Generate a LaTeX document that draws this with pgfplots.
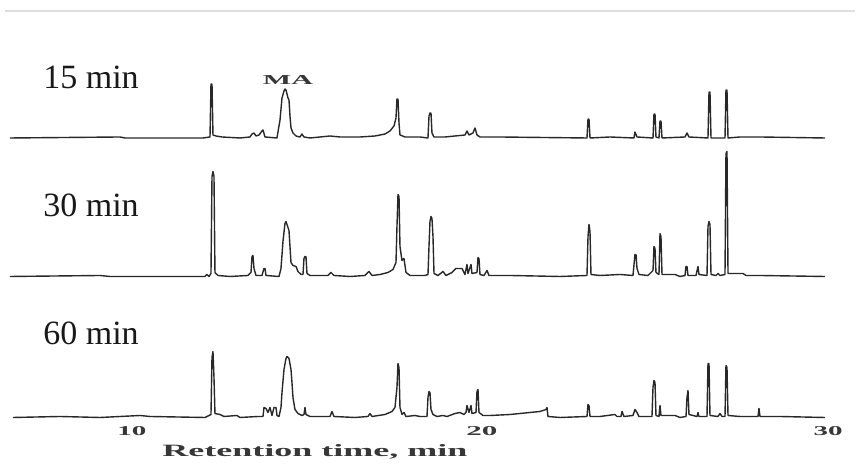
\documentclass[border=0pt]{standalone}
\usepackage{fontspec}
\setmainfont{Liberation Serif}
\usepackage{graphicx}
\usepackage{pgfplots}
\usepackage{pgfplotstable}
\pgfplotsset{compat=1.18}
\definecolor{trace}{RGB}{40,40,40}
\definecolor{lbl}{RGB}{55,55,55}

% 15 min chromatogram: t (min), h (signal)
\pgfplotstableread{
t h
6.514 0
9.657 1
9.8 0
12.029 0
12.229 1
12.257 54
12.286 54
12.314 3
12.4 2
12.571 1
13.086 0
13.371 1
13.429 4
13.486 5
13.543 2
13.629 3
13.714 7
13.743 8
13.8 1
14.143 0
14.229 18
14.286 40
14.343 47
14.371 49
14.4 48
14.429 44
14.457 40
14.486 38
14.514 22
14.543 10
14.6 5
14.686 2
14.8 1
14.857 4
14.914 1
15.086 0
15.657 2
15.943 1
16.514 1
16.943 2
17.229 4
17.371 7
17.486 12
17.543 20
17.571 39
17.6 39
17.629 15
17.657 3
17.8 1
18.229 1
18.457 0
18.486 22
18.514 25
18.543 25
18.571 5
18.629 1
18.943 1
19.229 2
19.514 3
19.571 7
19.629 3
19.743 5
19.8 10
19.857 3
19.943 1
20.514 1
23.0 0
23.029 19
23.057 19
23.086 0
23.657 1
24.343 0
24.371 6
24.429 1
24.886 0
24.914 24
24.943 24
24.971 1
25.057 0
25.086 17
25.114 17
25.143 0
25.8 1
25.857 5
25.914 1
26.457 0
26.486 46
26.514 46
26.543 0
26.943 0
26.971 48
27.0 48
27.029 0
27.371 1
27.943 1
29.8 0
}\panelA

% 30 min chromatogram
\pgfplotstableread{
t h
6.514 0
9.086 1
9.371 0
12.086 0
12.143 2
12.2 0
12.257 3
12.286 100
12.314 105
12.343 100
12.371 4
12.457 1
12.8 0
13.314 1
13.4 4
13.429 20
13.457 21
13.486 8
13.543 1
13.714 1
13.771 8
13.8 8
13.829 1
14.2 0
14.257 8
14.314 35
14.371 53
14.4 55
14.429 52
14.486 46
14.514 30
14.543 14
14.6 11
14.686 10
14.743 5
14.829 2
14.886 2
14.914 18
14.943 20
14.971 20
15.0 3
15.086 1
15.6 1
15.686 4
15.771 1
16.229 0
16.657 1
16.771 5
16.857 1
17.086 2
17.314 4
17.457 7
17.543 14
17.571 50
17.6 82
17.629 80
17.657 30
17.714 16
17.771 18
17.829 4
17.943 1
18.371 1
18.457 2
18.486 30
18.514 55
18.543 60
18.571 58
18.6 40
18.629 3
18.743 1
18.886 5
18.971 1
19.143 4
19.257 8
19.429 8
19.514 2
19.571 12
19.6 3
19.686 12
19.714 3
19.857 4
19.886 19
19.914 18
19.943 2
20.057 1
20.143 6
20.2 1
20.8 1
22.229 0
23.0 1
23.029 40
23.057 52
23.086 45
23.114 2
23.371 1
23.943 2
24.314 1
24.371 22
24.4 22
24.429 8
24.486 2
24.743 1
24.829 4
24.886 6
24.914 30
24.943 28
24.971 4
25.057 2
25.086 43
25.114 40
25.143 2
25.514 2
25.657 0
25.8 1
25.829 10
25.857 10
25.886 1
26.114 1
26.171 10
26.2 2
26.429 1
26.457 50
26.486 55
26.514 52
26.543 2
26.686 1
26.743 3
26.8 1
26.943 2
26.971 123
27.0 125
27.029 3
27.457 3
27.543 1
27.943 1
29.8 0
}\panelB

% 60 min chromatogram
\pgfplotstableread{
t h
6.6 0
7.943 1
9.086 0
10.229 2
10.514 1
12.086 0
12.257 3
12.286 60
12.314 66
12.343 40
12.371 4
12.514 3
12.629 1
13.0 2
13.086 0
13.6 1
13.743 1
13.771 10
13.829 9
13.886 5
13.943 10
14.0 2
14.057 10
14.114 10
14.143 2
14.2 1
14.257 10
14.286 25
14.343 48
14.4 59
14.429 61
14.486 59
14.543 48
14.571 35
14.6 20
14.657 8
14.743 4
14.857 2
14.914 3
14.943 10
14.971 3
15.086 1
15.657 1
15.714 6
15.771 1
16.371 0
16.743 1
16.8 4
16.857 1
17.229 3
17.429 6
17.514 10
17.571 30
17.6 54
17.629 50
17.657 10
17.714 3
17.771 5
17.829 1
18.086 2
18.229 1
18.429 1
18.457 20
18.486 26
18.514 25
18.543 8
18.6 3
18.714 1
18.886 2
19.0 1
19.229 4
19.371 5
19.486 3
19.543 5
19.571 12
19.629 5
19.686 12
19.714 4
19.829 5
19.857 26
19.886 28
19.914 5
20.029 2
20.229 2
20.8 3
21.371 5
21.657 6
21.829 8
21.857 10
21.886 1
22.229 0
23.0 1
23.029 13
23.057 12
23.086 1
23.371 1
23.8 3
23.857 1
23.971 1
24.0 6
24.057 1
24.314 2
24.371 8
24.429 5
24.486 1
24.857 1
24.886 30
24.914 37
24.943 35
24.971 2
25.057 1
25.086 12
25.114 2
25.514 2
25.657 0
25.829 1
25.857 20
25.886 27
25.914 3
26.143 1
26.171 5
26.2 1
26.429 1
26.457 54
26.486 54
26.514 2
26.743 1
26.8 4
26.857 1
26.943 1
26.971 52
27.0 50
27.029 2
27.371 1
27.886 1
27.914 9
27.943 1
28.514 1
29.8 0
}\panelC

\begin{document}
\begin{tikzpicture}
\begin{axis}[
  scale only axis,
  width=429pt, height=232pt,
  xmin=6.229, xmax=30.743,
  ymin=0, ymax=464,
  hide axis,
  clip=false,
]
\addplot[trace, no markers, line width=0.7pt, line join=round] table[x=t, y expr=\thisrow{h}+326] {\panelA};
\addplot[trace, no markers, line width=0.7pt, line join=round] table[x=t, y expr=\thisrow{h}+187.5] {\panelB};
\addplot[trace, no markers, line width=0.7pt, line join=round] table[x=t, y expr=\thisrow{h}+46.5] {\panelC};

% faint frame line at the top
\draw[gray!25, line width=0.9pt] (axis cs:6.371,453) -- (axis cs:30.657,453);

% panel labels
\node[anchor=base west, inner sep=0, font=\fontsize{17pt}{20pt}\selectfont, text=black!90] at (axis cs:7.457,375) {15 min};
\node[anchor=base west, inner sep=0, font=\fontsize{17pt}{20pt}\selectfont, text=black!90] at (axis cs:7.457,247) {30 min};
\node[anchor=base west, inner sep=0, font=\fontsize{17pt}{20pt}\selectfont, text=black!90] at (axis cs:7.457,119) {60 min};

% peak label
\node[inner sep=0, text=lbl] at (axis cs:14.457,383.5) {\resizebox{25pt}{4.5pt}{\bfseries MA}};

% x tick labels and axis title
\node[inner sep=0, text=lbl] at (axis cs:10,32.5) {\resizebox{14.5pt}{4.5pt}{\bfseries 10}};
\node[inner sep=0, text=lbl] at (axis cs:20,32.5) {\resizebox{15.5pt}{4.5pt}{\bfseries 20}};
\node[inner sep=0, text=lbl] at (axis cs:29.886,32.5) {\resizebox{14.5pt}{4.5pt}{\bfseries 30}};
\node[anchor=base west, inner sep=0, text=lbl] at (axis cs:10.857,7) {\resizebox{152.5pt}{6pt}{\bfseries Retention time, min}};
\end{axis}
\pgfresetboundingbox
\path (0,0) rectangle (429pt,232pt);
\end{tikzpicture}
\end{document}
